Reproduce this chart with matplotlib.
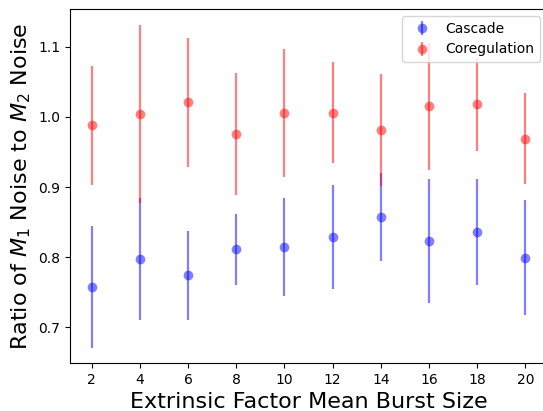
import matplotlib
matplotlib.use("Agg")
import matplotlib.pyplot as plt

# burst sizes and noise ratios
burst_size = [2, 4, 6, 8, 10, 12, 14, 16, 18, 20]

cascade = [0.757, 0.797, 0.774, 0.811, 0.815, 0.829, 0.857, 0.823, 0.836, 0.799]
cascade_err = [0.087, 0.087, 0.063, 0.051, 0.070, 0.074, 0.063, 0.088, 0.076, 0.082]

coreg = [0.988, 1.004, 1.021, 0.975, 1.006, 1.006, 0.981, 1.015, 1.018, 0.969]
coreg_err = [0.085, 0.127, 0.092, 0.087, 0.091, 0.072, 0.080, 0.090, 0.066, 0.065]

fig = plt.figure(figsize=(5.43, 4.11), dpi=100)
# the reference is cropped just inside the right spine
ax = fig.add_axes([70 / 543, 48 / 411, 477 / 543, 354 / 411])

ax.errorbar(burst_size, cascade, yerr=cascade_err, fmt='o', color='blue',
            alpha=0.5, markersize=7, markeredgewidth=0, elinewidth=1.6,
            label='Cascade')
ax.errorbar(burst_size, coreg, yerr=coreg_err, fmt='o', color='red',
            alpha=0.5, markersize=7, markeredgewidth=0, elinewidth=1.6,
            label='Coregulation')

ax.set_xticks(burst_size)
ax.set_ylim(0.649, 1.154)
ax.set_xlabel("Extrinsic Factor Mean Burst Size", fontsize=16)
ax.set_ylabel("Ratio of $M_1$ Noise to $M_2$ Noise", fontsize=16)
ax.legend(loc='upper right', fontsize=10, handletextpad=0.7)

fig.savefig("out.png", dpi=100)
